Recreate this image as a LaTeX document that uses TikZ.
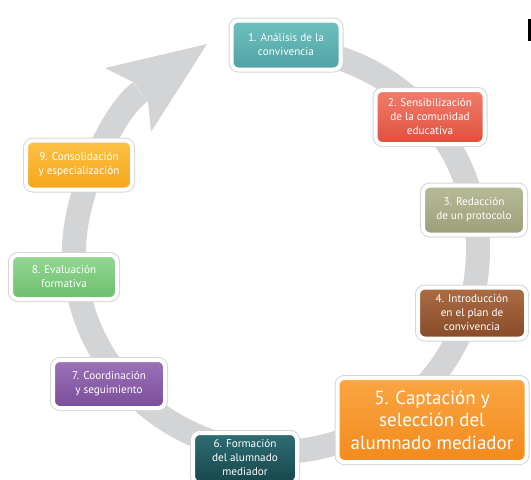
\documentclass[tikz,border=0pt]{standalone}
\usepackage{fontspec}
\setmainfont{PT Sans}
\usetikzlibrary{calc}
\definecolor{ring}{HTML}{D3D4D6}
\definecolor{aT}{HTML}{6FC0C0}\definecolor{aB}{HTML}{4FA2A4}
\definecolor{bT}{HTML}{F27D6C}\definecolor{bB}{HTML}{DF4F3D}
\definecolor{cT}{HTML}{B8BB98}\definecolor{cB}{HTML}{9C9F79}
\definecolor{dT}{HTML}{AC6D45}\definecolor{dB}{HTML}{874B28}
\definecolor{eT}{HTML}{FAA643}\definecolor{eB}{HTML}{F38A1B}
\definecolor{fT}{HTML}{2F6E74}\definecolor{fB}{HTML}{16474D}
\definecolor{gT}{HTML}{9C72BA}\definecolor{gB}{HTML}{7A4D98}
\definecolor{hT}{HTML}{94D894}\definecolor{hB}{HTML}{6CBE6C}
\definecolor{iT}{HTML}{FCC245}\definecolor{iB}{HTML}{F6A51B}
\tikzset{
 stepbox/.style={rounded corners=7pt, text=white, align=center,
   font=\fontsize{11.2}{14}\selectfont, inner sep=0pt,
   preaction={draw=black!16, line width=6pt},
   draw=white, line width=4pt},
}
\begin{document}
\begin{tikzpicture}[x=1pt,y=-1pt]
\useasboundingbox (0,0) rectangle (531,480);
\coordinate (c) at (276,250);
\coordinate (shaftend) at (140,92);
\coordinate (tip) at (207,44);
\draw[ring, line width=24pt] ($(c)+(-85:202)$) arc[start angle=-85,end angle=180,radius=202]
  .. controls (74,195) and (112,112) .. (shaftend);
\fill[ring] (133,82) -- (105,68) -- (tip) -- (151,132) -- (148,102) -- cycle;

\node[stepbox, minimum width=109pt, minimum height=49pt, top color=aT, bottom color=aB] (s1) at (286,45) {1. Análisis de la\\convivencia};
\node[stepbox, minimum width=109pt, minimum height=54pt, top color=bT, bottom color=bB] (s2) at (430,117) {2. Sensibilización\\de la comunidad\\educativa};
\node[stepbox, minimum width=102pt, minimum height=49pt, top color=cT, bottom color=cB] (s3) at (474,210) {3. Redacción\\de un protocolo};
\node[stepbox, minimum width=108pt, minimum height=51pt, top color=dT, bottom color=dB] (s4) at (472,313) {4. Introducción\\en el plan de\\convivencia};
\node[stepbox, minimum width=189pt, minimum height=84pt, font=\fontsize{19}{22.5}\selectfont, top color=eT, bottom color=eB] (s5) at (432,420) {5. Captación y\\selección del\\alumnado mediador};
\node[stepbox, minimum width=104pt, minimum height=50pt, top color=fT, bottom color=fB] (s6) at (245,458) {6. Formación\\del alumnado\\mediador};
\node[stepbox, minimum width=112pt, minimum height=48pt, top color=gT, bottom color=gB] (s7) at (109,384) {7. Coordinación\\y seguimiento};
\node[stepbox, minimum width=106pt, minimum height=44pt, top color=hT, bottom color=hB] (s8) at (64,277) {8. Evaluación\\formativa};
\node[stepbox, minimum width=106pt, minimum height=49pt, top color=iT, bottom color=iB] (s9) at (79,165) {9. Consolidación\\y especialización};

\fill[black] (527.5,19) rectangle (530.5,41);
\end{tikzpicture}
\end{document}
